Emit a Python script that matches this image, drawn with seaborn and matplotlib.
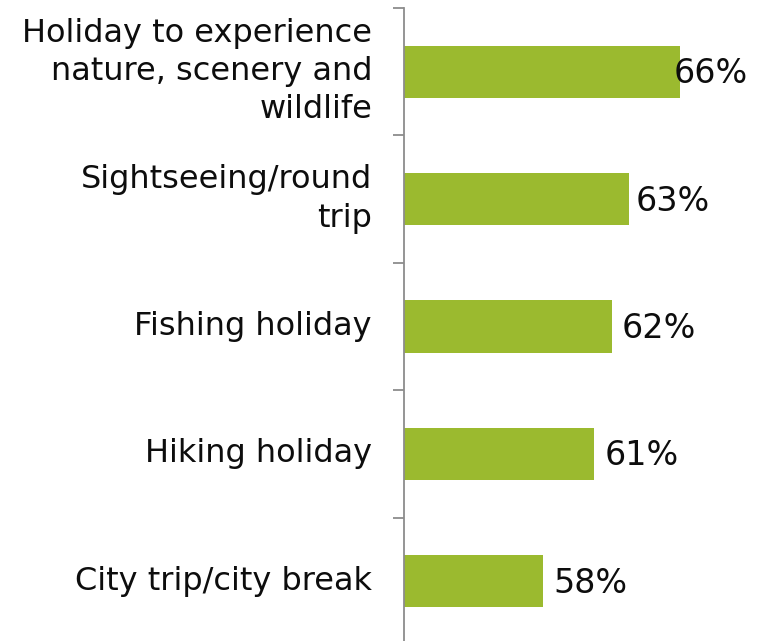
import matplotlib
matplotlib.use("Agg")
import matplotlib.pyplot as plt
import seaborn as sns
import pandas as pd
from matplotlib.ticker import FixedLocator
import matplotlib.transforms as mtrans

categories = ["Holiday to experience\nnature, scenery and\nwildlife",
              "Sightseeing/round\ntrip",
              "Fishing holiday",
              "Hiking holiday",
              "City trip/city break"]
values = [66, 63, 62, 61, 58]
value_labels = ["66%", "63%", "62%", "61%", "58%"]

df = pd.DataFrame({"category": categories, "value": values})

sns.set_theme(style="white")
plt.rcParams['font.family'] = ['DejaVu Sans']

fig = plt.figure(figsize=(7.63, 6.41), dpi=100)
ax = fig.add_axes([404/763, -4/641, 359/763, 637/641])

sns.barplot(data=df, x="value", y="category", orient="h", color="#9BBA2F",
            width=0.41, saturation=1, edgecolor="none", ax=ax)

ax.set_xlim(49.88, 70.84)
ax.set_ylim(len(categories) - 0.5, -0.5)
ax.set_xlabel("")
ax.set_ylabel("")
ax.set_xticks([])

for s in ["top", "right", "bottom"]:
    ax.spines[s].set_visible(False)
ax.spines["left"].set_color("#8c8c8c")
ax.spines["left"].set_linewidth(1.3)

ax.yaxis.set_minor_locator(FixedLocator([i - 0.5 for i in range(len(categories) + 1)]))
ax.tick_params(axis="y", which="major", length=0, pad=23, labelsize=23, labelcolor="#0d0d0d")
ax.tick_params(axis="y", which="minor", length=8, width=1.3, color="#8c8c8c", left=True)
for lbl in ax.get_yticklabels():
    lbl.set_linespacing(1.3)
    lbl.set_verticalalignment("center")

offsets = [-6, 7, 10, 10, 10]
for i, (v, t) in enumerate(zip(values, value_labels)):
    tr = ax.transData + mtrans.ScaledTranslation(offsets[i] / 100, -2 / 100, fig.dpi_scale_trans)
    ax.text(v, i, t, transform=tr, ha="left", va="center", fontsize=24,
            color="#0d0d0d", clip_on=False)

fig.savefig("out.png", dpi=100)
